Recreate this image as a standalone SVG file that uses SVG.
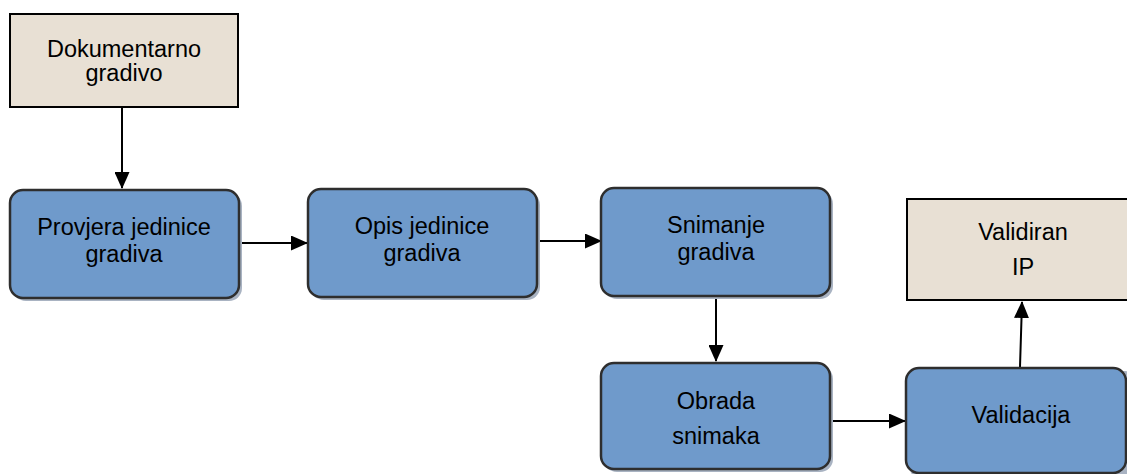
<svg xmlns="http://www.w3.org/2000/svg" width="1127" height="474" viewBox="0 0 1127 474">
<defs>
<style>
.src{fill:#E8E0D4;stroke:#000;stroke-width:2}
.proc{fill:#6F9ACB;stroke:#2E2E2E;stroke-width:2.5}
.shadow{fill:#A9B3C2}
.t{font-family:"Liberation Sans",Arial,sans-serif;font-size:23.5px;fill:#000;text-anchor:middle}
.c{stroke:#000;stroke-width:2;fill:none;marker-end:url(#ah)}
</style>
<marker id="ah" markerWidth="17" markerHeight="15" refX="16" refY="7.5" orient="auto" markerUnits="userSpaceOnUse">
<path d="M0,0 L17,7.5 L0,15 Z" fill="#000"/>
</marker>
</defs>
<g id="connectors">
<line class="c" x1="122" y1="107" x2="122" y2="188"/>
<line class="c" x1="239" y1="243" x2="307" y2="243"/>
<line class="c" x1="537" y1="241" x2="601" y2="241"/>
<line class="c" x1="716" y1="297" x2="716" y2="361"/>
<line class="c" x1="830" y1="421" x2="905" y2="421"/>
<line class="c" x1="1020" y1="367" x2="1022" y2="302"/>
</g>
<g id="dokumentarno">
<rect class="src" x="10" y="14" width="228" height="93"/>
<text class="t" x="124" y="57">Dokumentarno</text>
<text class="t" x="124" y="81">gradivo</text>
</g>
<g id="provjera">
<rect class="shadow" x="13" y="193" width="229" height="108" rx="13"/>
<rect class="proc" x="10" y="190" width="229" height="108" rx="13"/>
<text class="t" x="124" y="235">Provjera jedinice</text>
<text class="t" x="124" y="262">gradiva</text>
</g>
<g id="opis">
<rect class="shadow" x="311" y="192" width="229" height="108" rx="13"/>
<rect class="proc" x="308" y="189" width="229" height="108" rx="13"/>
<text class="t" x="422" y="234">Opis jedinice</text>
<text class="t" x="422" y="261">gradiva</text>
</g>
<g id="snimanje">
<rect class="shadow" x="604" y="191" width="229" height="108" rx="13"/>
<rect class="proc" x="601" y="188" width="229" height="108" rx="13"/>
<text class="t" x="716" y="233">Snimanje</text>
<text class="t" x="716" y="260">gradiva</text>
</g>
<g id="obrada">
<rect class="shadow" x="604" y="366" width="229" height="106" rx="13"/>
<rect class="proc" x="601" y="363" width="229" height="106" rx="13"/>
<text class="t" x="716" y="409">Obrada</text>
<text class="t" x="716" y="444">snimaka</text>
</g>
<g id="validacija">
<rect class="shadow" x="909" y="371" width="229" height="108" rx="13"/>
<rect class="proc" x="906" y="368" width="220" height="105" rx="13"/>
<text class="t" x="1021" y="423">Validacija</text>
</g>
<g id="validiran">
<rect class="src" x="907" y="199" width="222" height="101"/>
<text class="t" x="1023" y="240">Validiran</text>
<text class="t" x="1023" y="275">IP</text>
</g>
</svg>
